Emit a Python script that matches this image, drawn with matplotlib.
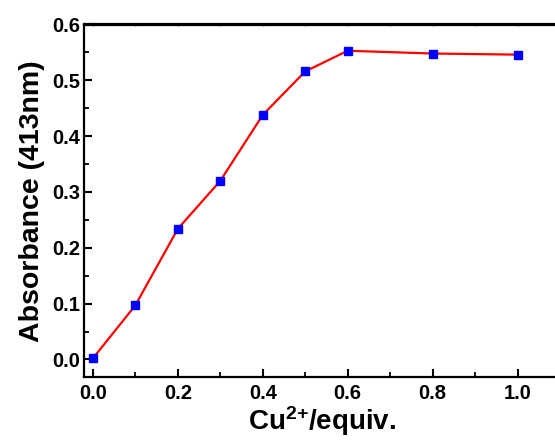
import matplotlib
matplotlib.use("Agg")
import matplotlib.pyplot as plt
from matplotlib.ticker import MultipleLocator

x_equiv = [0.0, 0.1, 0.2, 0.3, 0.4, 0.5, 0.6, 0.8, 1.0]
absorbance = [0.002, 0.097, 0.234, 0.320, 0.438, 0.516, 0.553, 0.548, 0.546]

plt.rcParams['font.family'] = ['Liberation Sans', 'DejaVu Sans']
plt.rcParams['font.weight'] = 'bold'
plt.rcParams['mathtext.fontset'] = 'custom'
plt.rcParams['mathtext.rm'] = 'Liberation Sans:bold'
plt.rcParams['mathtext.bf'] = 'Liberation Sans:bold'
plt.rcParams['mathtext.it'] = 'Liberation Sans:bold'
plt.rcParams['mathtext.default'] = 'bf'

fig = plt.figure(figsize=(5.55, 4.43), dpi=100)
ax = fig.add_axes([84/555, 1-377.3/443, (560-84)/555, (377.3-24.5)/443])

ax.plot(x_equiv, absorbance, color='red', lw=1.6, marker='s', ms=6,
        mfc='blue', mec='blue', zorder=3)

ax.set_xlim(-0.021, 1.1)
ax.set_ylim(-0.032, 0.6)
ax.xaxis.set_major_locator(MultipleLocator(0.2))
ax.xaxis.set_minor_locator(MultipleLocator(0.1))
ax.yaxis.set_major_locator(MultipleLocator(0.1))
ax.yaxis.set_minor_locator(MultipleLocator(0.05))
ax.xaxis.set_major_formatter(plt.FormatStrFormatter('%.1f'))
ax.yaxis.set_major_formatter(plt.FormatStrFormatter('%.1f'))

for s in ax.spines.values():
    s.set_linewidth(1.6)
ax.tick_params(which='major', direction='in', length=6, width=1.5, labelsize=14.5, pad=5)
ax.tick_params(which='minor', direction='in', length=3.5, width=1.3)
ax.tick_params(axis='y', which='major', pad=3)

top = ax.secondary_xaxis('top')
top.xaxis.set_major_locator(MultipleLocator(0.1))
top.tick_params(direction='in', length=1.5, width=1.0, labeltop=False, color='0.4')
top.spines['top'].set_linewidth(1.6)

for lab in ax.get_xticklabels() + ax.get_yticklabels():
    lab.set_fontweight('bold')

ax.set_xlabel('Cu$^{\\text{2+}}$/equiv.', fontsize=20, fontweight='bold', labelpad=1)
ax.set_ylabel('Absorbance (413nm)', fontsize=20.5, fontweight='bold', labelpad=5)

fig.savefig('out.png', dpi=100)
